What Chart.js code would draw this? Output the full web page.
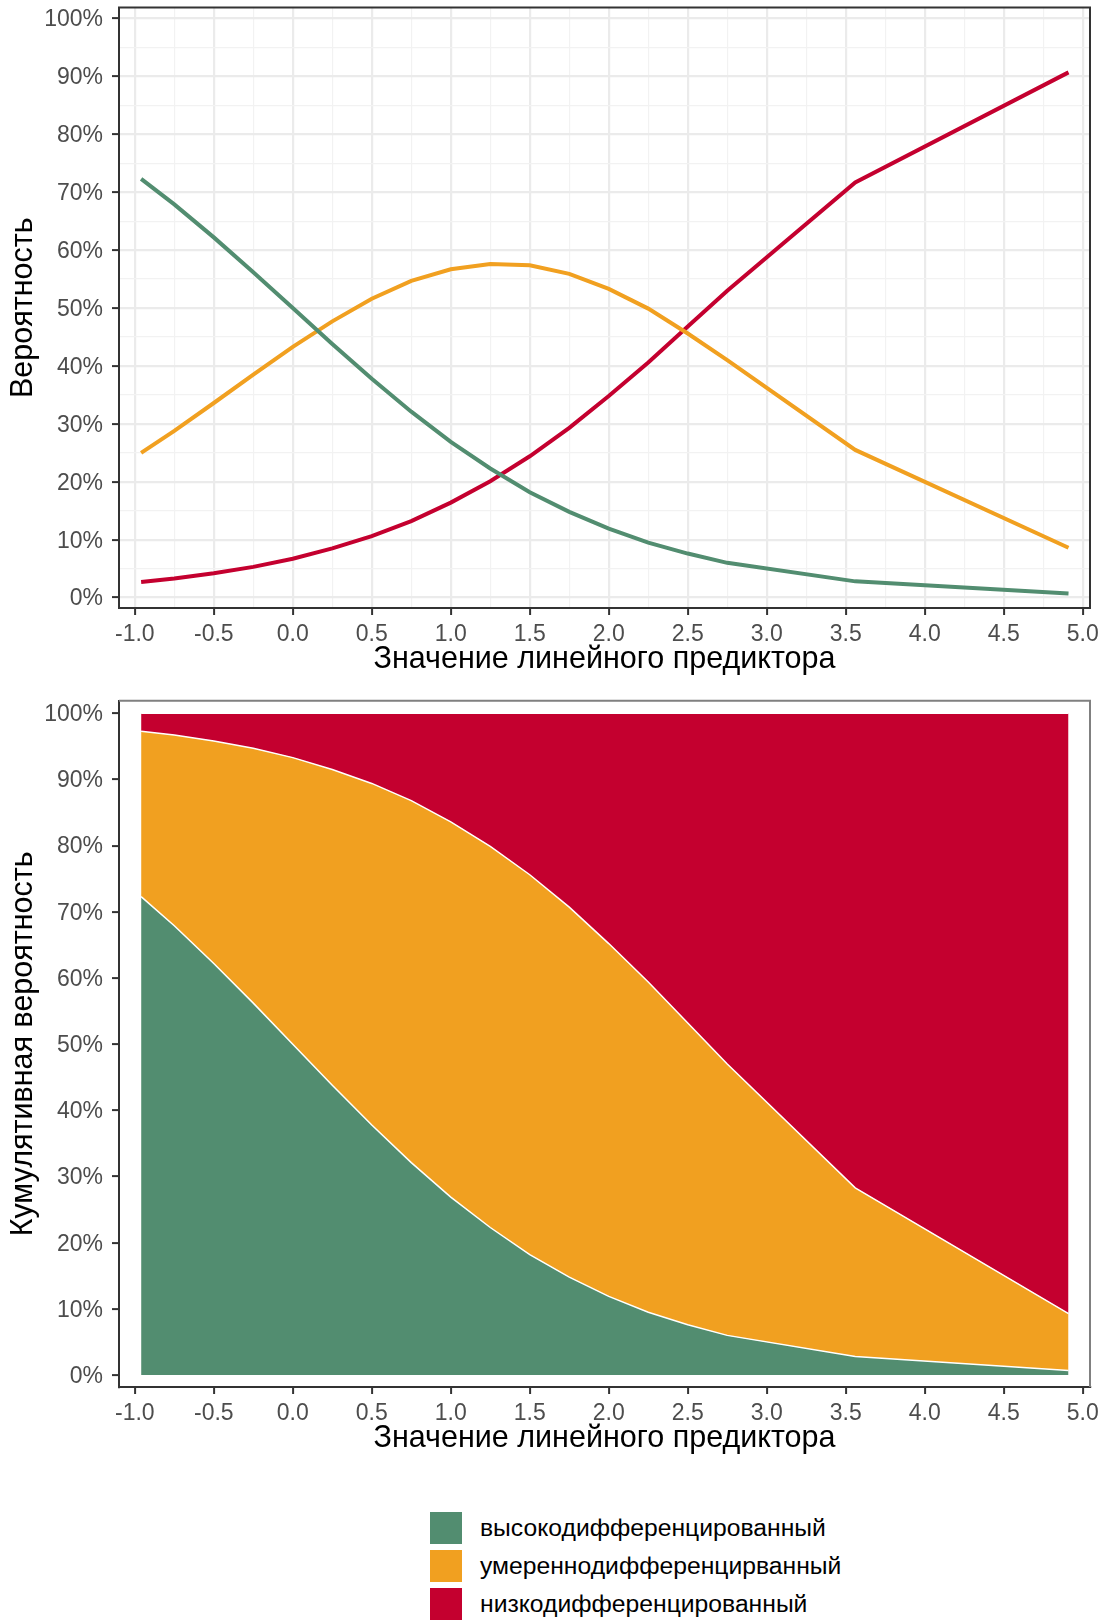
<!DOCTYPE html>
<html>
<head>
<meta charset="utf-8">
<script src="https://cdn.jsdelivr.net/npm/chart.js@4.4.1/dist/chart.umd.min.js"></script>
<style>
  body { margin: 0; background: #fff; width: 1109px; height: 1620px; position: relative; overflow: hidden;
         font-family: "Liberation Sans", Arial, sans-serif; }
  #probChart { position: absolute; left: 0; top: 0; }
  #cumChart { position: absolute; left: 0; top: 680px; }
  .key { position: absolute; left: 430px; width: 32px; height: 32px; }
  .lab { position: absolute; left: 480px; height: 32px; line-height: 32px; font-size: 24.7px; color: #000; white-space: nowrap; }
</style>
</head>
<body>
<canvas id="probChart" width="1109" height="680"></canvas>
<canvas id="cumChart" width="1109" height="779"></canvas>
<div id="legend"></div>
<script>
// linear predictor values where the probabilities were evaluated
const predictor = [-0.96, -0.75, -0.5, -0.25, 0, 0.25, 0.5, 0.75, 1.0, 1.25, 1.5, 1.75, 2.0, 2.25, 2.5, 2.75, 3.56, 4.91];
// probabilities, %
const highDiff = [72.3, 67.9, 62.2, 56.2, 50.0, 43.8, 37.8, 32.1, 26.9, 22.3, 18.2, 14.8, 11.9, 9.5, 7.6, 6.0, 2.8, 0.7];
const modDiff  = [25.0, 28.8, 33.6, 38.5, 43.3, 47.7, 51.6, 54.7, 56.7, 57.6, 57.4, 55.9, 53.3, 49.9, 45.6, 41.0, 25.5, 8.6];
const lowDiff  = [2.7, 3.3, 4.2, 5.3, 6.7, 8.5, 10.6, 13.2, 16.4, 20.1, 24.4, 29.3, 34.8, 40.6, 46.8, 53.0, 71.7, 90.7];

const seriesNames = ['высокодифференцированный', 'умереннодифференцирванный', 'низкодифференцированный'];
const seriesColors = ['#528D70', '#F1A020', '#C4002F'];

// axis breaks
const xMajor = [-1.0, -0.5, 0.0, 0.5, 1.0, 1.5, 2.0, 2.5, 3.0, 3.5, 4.0, 4.5, 5.0];
const xMinor = [-0.75, -0.25, 0.25, 0.75, 1.25, 1.75, 2.25, 2.75, 3.25, 3.75, 4.25, 4.75];
const yMajor = [0, 10, 20, 30, 40, 50, 60, 70, 80, 90, 100];
const yMinor = [5, 15, 25, 35, 45, 55, 65, 75, 85, 95];

const xTitle = 'Значение линейного предиктора';
const yTitleTop = 'Вероятность';
const yTitleBottom = 'Кумулятивная вероятность';

Chart.defaults.font.family = '"Liberation Sans", Arial, sans-serif';

function points(vals) {
    return predictor.map((x, i) => ({ x: x, y: vals[i] }));
}
function isMajorX(v) { return xMajor.some(m => Math.abs(m - v) < 1e-6); }
function isMajorY(v) { return yMajor.indexOf(v) >= 0; }

const tickFont = { size: 23 };
const titleFont = { size: 30.5 };

// panel frame drawn on top of the plot area
const frameTop = {
    id: 'frameTop',
    afterDraw(chart) {
        const a = chart.chartArea, c = chart.ctx;
        c.save();
        c.strokeStyle = '#333333';
        c.lineWidth = 2;
        c.strokeRect(a.left, a.top, a.right - a.left, a.bottom - a.top);
        c.restore();
    }
};
const frameBottom = {
    id: 'frameBottom',
    afterDraw(chart) {
        const a = chart.chartArea, c = chart.ctx;
        c.save();
        c.strokeStyle = '#808080';
        c.lineWidth = 2;
        c.beginPath();
        c.moveTo(a.left, a.top);
        c.lineTo(a.right, a.top);
        c.lineTo(a.right, a.bottom);
        c.stroke();
        c.restore();
    }
};

function xScale(withGrid) {
    return {
        type: 'linear',
        min: -1.10,
        max: 5.046,
        afterBuildTicks: s => { s.ticks = xMajor.concat(withGrid ? xMinor : []).sort((a, b) => a - b).map(v => ({ value: v })); },
        afterFit: s => { s.height = 72; s.paddingLeft = 0; s.paddingRight = 0; },
        ticks: {
            autoSkip: false, maxRotation: 0, padding: 6, color: '#4D4D4D', font: tickFont,
            callback: v => isMajorX(v) ? v.toFixed(1) : ''
        },
        grid: {
            display: true,
            drawOnChartArea: withGrid,
            color: ctx => isMajorX(ctx.tick.value) ? '#EBEBEB' : '#F2F2F2',
            lineWidth: ctx => isMajorX(ctx.tick.value) ? 2.2 : 1.2,
            tickLength: 7,
            tickColor: ctx => isMajorX(ctx.tick.value) ? '#333333' : 'rgba(0,0,0,0)',
            tickWidth: 2
        },
        border: withGrid ? { display: false } : { display: true, color: '#333333', width: 2 },
        title: { display: true, text: xTitle, color: '#000', font: titleFont, padding: { top: 0, bottom: 2 } }
    };
}

function yScale(withGrid, title, stacked) {
    return {
        type: 'linear',
        stacked: stacked,
        min: -1.8,
        max: 101.9,
        afterBuildTicks: s => { s.ticks = yMajor.concat(withGrid ? yMinor : []).sort((a, b) => a - b).map(v => ({ value: v })); },
        afterFit: s => { s.width = 119; s.paddingTop = 0; s.paddingBottom = 0; },
        ticks: {
            autoSkip: false, padding: 9, labelOffset: 1.5, color: '#4D4D4D', font: tickFont,
            callback: v => isMajorY(v) ? v + '%' : ''
        },
        grid: {
            display: true,
            drawOnChartArea: withGrid,
            color: ctx => isMajorY(ctx.tick.value) ? '#EBEBEB' : '#F2F2F2',
            lineWidth: ctx => isMajorY(ctx.tick.value) ? 2.2 : 1.2,
            tickLength: 7,
            tickColor: ctx => isMajorY(ctx.tick.value) ? '#333333' : 'rgba(0,0,0,0)',
            tickWidth: 2
        },
        border: withGrid ? { display: false } : { display: true, color: '#333333', width: 2 },
        title: { display: true, text: title, color: '#000', font: titleFont, padding: { top: 5, bottom: 0 } }
    };
}

var probChart = new Chart(document.getElementById('probChart'), {
    type: 'line',
    data: {
        datasets: [highDiff, modDiff, lowDiff].map((vals, i) => ({
            label: seriesNames[i],
            data: points(vals),
            borderColor: seriesColors[i],
            borderWidth: 4,
            pointRadius: 0,
            tension: 0,
            fill: false
        }))
    },
    options: {
        responsive: false,
        animation: false,
        layout: { padding: { left: 0, right: 19, top: 7.5, bottom: 0 } },
        plugins: { legend: { display: false }, tooltip: { enabled: false } },
        scales: { x: xScale(true), y: yScale(true, yTitleTop, false) }
    },
    plugins: [frameTop]
});

var cumChart = new Chart(document.getElementById('cumChart'), {
    type: 'line',
    data: {
        datasets: [highDiff, modDiff, lowDiff].map((vals, i) => ({
            label: seriesNames[i],
            data: points(vals),
            borderColor: '#FFFFFF',
            borderWidth: 1.5,
            backgroundColor: seriesColors[i],
            pointRadius: 0,
            tension: 0,
            fill: i === 0 ? 'origin' : '-1'
        }))
    },
    options: {
        responsive: false,
        animation: false,
        layout: { padding: { left: 0, right: 19, top: 20.7, bottom: 0 } },
        plugins: { legend: { display: false }, tooltip: { enabled: false }, filler: { drawTime: 'beforeDatasetsDraw' } },
        scales: { x: xScale(false), y: yScale(false, yTitleBottom, true) }
    },
    plugins: [frameBottom]
});

// legend below the charts
var legend = document.getElementById('legend');
seriesNames.forEach((name, i) => {
    var top = 1512 + i * 38;
    var key = document.createElement('div');
    key.className = 'key';
    key.style.top = top + 'px';
    key.style.background = seriesColors[i];
    legend.appendChild(key);
    var lab = document.createElement('div');
    lab.className = 'lab';
    lab.style.top = top + 'px';
    lab.textContent = name;
    legend.appendChild(lab);
});
</script>
</body>
</html>
